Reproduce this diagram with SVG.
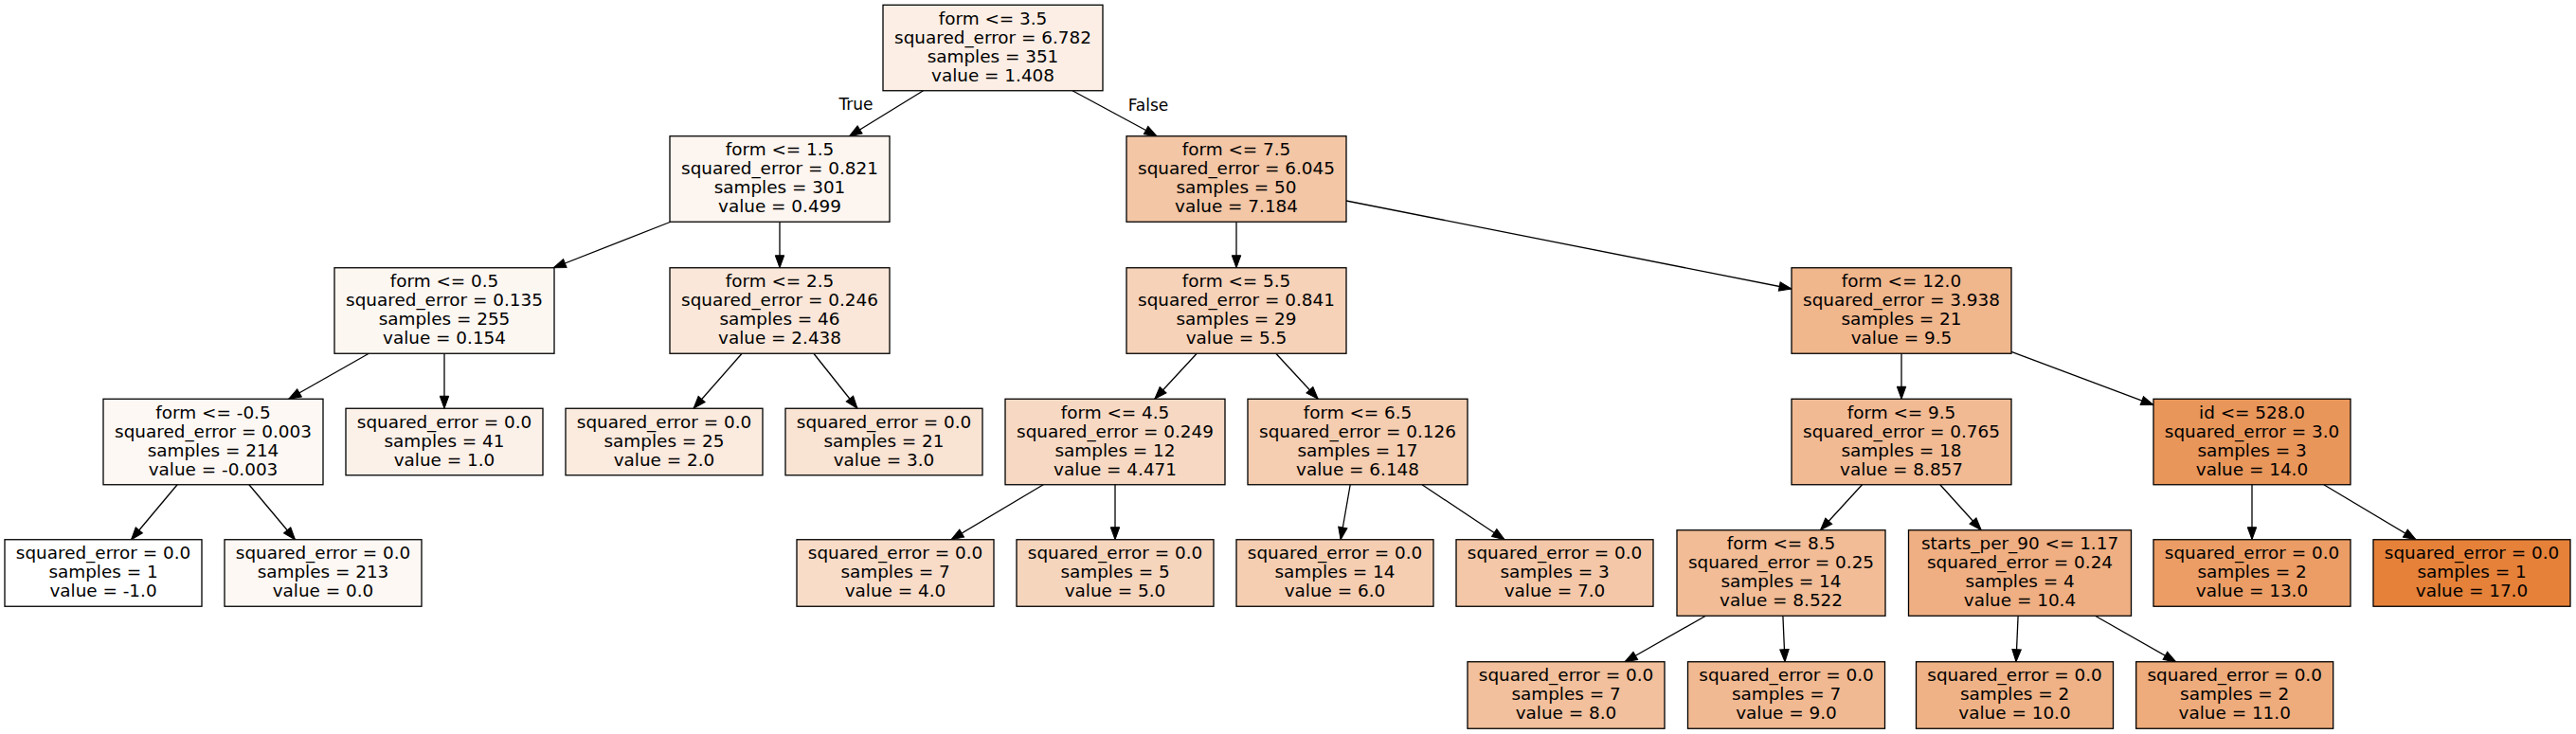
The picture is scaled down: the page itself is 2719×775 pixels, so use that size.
<svg xmlns="http://www.w3.org/2000/svg" width="2719" height="775" viewBox="0 0 2719 775">
<style>
.n rect{stroke:#000;stroke-width:1.3}
.n text{font-family:"DejaVu Sans",sans-serif;font-size:18.4px;text-anchor:middle;fill:#000}
.e line{stroke:#000;stroke-width:1.3;marker-end:url(#ah)}
.lbl{font-family:"DejaVu Sans",sans-serif;font-size:17px;text-anchor:middle;fill:#000}
</style>
<defs>
<marker id="ah" markerUnits="userSpaceOnUse" markerWidth="16" markerHeight="12" refX="13" refY="5" orient="auto" overflow="visible">
<path d="M0,0.3 L13,5 L0,9.7 z" fill="#000" stroke="#000" stroke-width="1"/>
</marker>
</defs>
<rect width="2719" height="775" fill="#fff"/>
<g id="edges" class="e">
<line x1="974.5" y1="95.75" x2="896.5" y2="143.75"/>
<line x1="1132" y1="95.75" x2="1221" y2="143.75"/>
<line x1="707.8" y1="234.25" x2="584.2" y2="282.75"/>
<line x1="823" y1="234.25" x2="823" y2="282.75"/>
<line x1="389.3" y1="373.25" x2="304.7" y2="421.25"/>
<line x1="469" y1="373.25" x2="469" y2="431.25"/>
<line x1="187.1" y1="511.75" x2="138.5" y2="569.75"/>
<line x1="262.9" y1="511.75" x2="311.5" y2="569.75"/>
<line x1="783.1" y1="373.25" x2="732.1" y2="431.25"/>
<line x1="858.9" y1="373.25" x2="905" y2="431.25"/>
<line x1="1305" y1="234.25" x2="1305" y2="282.75"/>
<line x1="1421" y1="212" x2="1891" y2="305"/>
<line x1="1263.2" y1="373.25" x2="1218.8" y2="421.25"/>
<line x1="1346.8" y1="373.25" x2="1391.2" y2="421.25"/>
<line x1="1101.2" y1="511.75" x2="1004" y2="569.75"/>
<line x1="1177" y1="511.75" x2="1177" y2="569.75"/>
<line x1="1425.2" y1="511.75" x2="1415.1" y2="569.75"/>
<line x1="1501" y1="511.75" x2="1588" y2="569.75"/>
<line x1="2007" y1="373.25" x2="2007" y2="421.25"/>
<line x1="2123" y1="371.4" x2="2273" y2="427.6"/>
<line x1="1965.5" y1="511.75" x2="1921.5" y2="559.75"/>
<line x1="2047.8" y1="511.75" x2="2091.2" y2="559.75"/>
<line x1="1800.4" y1="650.25" x2="1715" y2="698.75"/>
<line x1="1881.9" y1="650.25" x2="1884" y2="698.75"/>
<line x1="2130.1" y1="650.25" x2="2128" y2="698.75"/>
<line x1="2211.5" y1="650.25" x2="2296.7" y2="698.75"/>
<line x1="2377" y1="511.75" x2="2377" y2="569.75"/>
<line x1="2452.8" y1="511.75" x2="2550" y2="569.75"/>
<text class="lbl" x="903.5" y="115.7">True</text>
<text class="lbl" x="1212" y="116.7">False</text>
</g>
<g id="node0" class="n"><rect x="932" y="5.25" width="232" height="90.5" fill="#fceee5"/><text x="1048" y="25.5">form &lt;= 3.5</text><text x="1048" y="45.5">squared_error = 6.782</text><text x="1048" y="65.5">samples = 351</text><text x="1048" y="85.5">value = 1.408</text></g>
<g id="node1" class="n"><rect x="707" y="143.75" width="232" height="90.5" fill="#fdf5ef"/><text x="823" y="164">form &lt;= 1.5</text><text x="823" y="184">squared_error = 0.821</text><text x="823" y="204">samples = 301</text><text x="823" y="224">value = 0.499</text></g>
<g id="node2" class="n"><rect x="353" y="282.75" width="232" height="90.5" fill="#fdf7f2"/><text x="469" y="303">form &lt;= 0.5</text><text x="469" y="323">squared_error = 0.135</text><text x="469" y="343">samples = 255</text><text x="469" y="363">value = 0.154</text></g>
<g id="node3" class="n"><rect x="109" y="421.25" width="232" height="90.5" fill="#fef8f4"/><text x="225" y="441.5">form &lt;= -0.5</text><text x="225" y="461.5">squared_error = 0.003</text><text x="225" y="481.5">samples = 214</text><text x="225" y="501.5">value = -0.003</text></g>
<g id="node4" class="n"><rect x="5" y="569.75" width="208" height="70.5" fill="#ffffff"/><text x="109" y="590">squared_error = 0.0</text><text x="109" y="610">samples = 1</text><text x="109" y="630">value = -1.0</text></g>
<g id="node5" class="n"><rect x="237" y="569.75" width="208" height="70.5" fill="#fef8f4"/><text x="341" y="590">squared_error = 0.0</text><text x="341" y="610">samples = 213</text><text x="341" y="630">value = 0.0</text></g>
<g id="node6" class="n"><rect x="365" y="431.25" width="208" height="70.5" fill="#fcf1e9"/><text x="469" y="451.5">squared_error = 0.0</text><text x="469" y="471.5">samples = 41</text><text x="469" y="491.5">value = 1.0</text></g>
<g id="node7" class="n"><rect x="707" y="282.75" width="232" height="90.5" fill="#fae7d9"/><text x="823" y="303">form &lt;= 2.5</text><text x="823" y="323">squared_error = 0.246</text><text x="823" y="343">samples = 46</text><text x="823" y="363">value = 2.438</text></g>
<g id="node8" class="n"><rect x="597" y="431.25" width="208" height="70.5" fill="#fbeade"/><text x="701" y="451.5">squared_error = 0.0</text><text x="701" y="471.5">samples = 25</text><text x="701" y="491.5">value = 2.0</text></g>
<g id="node9" class="n"><rect x="829" y="431.25" width="208" height="70.5" fill="#f9e3d3"/><text x="933" y="451.5">squared_error = 0.0</text><text x="933" y="471.5">samples = 21</text><text x="933" y="491.5">value = 3.0</text></g>
<g id="node10" class="n"><rect x="1189" y="143.75" width="232" height="90.5" fill="#f3c6a5"/><text x="1305" y="164">form &lt;= 7.5</text><text x="1305" y="184">squared_error = 6.045</text><text x="1305" y="204">samples = 50</text><text x="1305" y="224">value = 7.184</text></g>
<g id="node11" class="n"><rect x="1189" y="282.75" width="232" height="90.5" fill="#f6d2b8"/><text x="1305" y="303">form &lt;= 5.5</text><text x="1305" y="323">squared_error = 0.841</text><text x="1305" y="343">samples = 29</text><text x="1305" y="363">value = 5.5</text></g>
<g id="node12" class="n"><rect x="1061" y="421.25" width="232" height="90.5" fill="#f7d9c3"/><text x="1177" y="441.5">form &lt;= 4.5</text><text x="1177" y="461.5">squared_error = 0.249</text><text x="1177" y="481.5">samples = 12</text><text x="1177" y="501.5">value = 4.471</text></g>
<g id="node13" class="n"><rect x="841" y="569.75" width="208" height="70.5" fill="#f8dcc8"/><text x="945" y="590">squared_error = 0.0</text><text x="945" y="610">samples = 7</text><text x="945" y="630">value = 4.0</text></g>
<g id="node14" class="n"><rect x="1073" y="569.75" width="208" height="70.5" fill="#f6d5bd"/><text x="1177" y="590">squared_error = 0.0</text><text x="1177" y="610">samples = 5</text><text x="1177" y="630">value = 5.0</text></g>
<g id="node15" class="n"><rect x="1317" y="421.25" width="232" height="90.5" fill="#f5cdb0"/><text x="1433" y="441.5">form &lt;= 6.5</text><text x="1433" y="461.5">squared_error = 0.126</text><text x="1433" y="481.5">samples = 17</text><text x="1433" y="501.5">value = 6.148</text></g>
<g id="node16" class="n"><rect x="1305" y="569.75" width="208" height="70.5" fill="#f5ceb2"/><text x="1409" y="590">squared_error = 0.0</text><text x="1409" y="610">samples = 14</text><text x="1409" y="630">value = 6.0</text></g>
<g id="node17" class="n"><rect x="1537" y="569.75" width="208" height="70.5" fill="#f3c7a7"/><text x="1641" y="590">squared_error = 0.0</text><text x="1641" y="610">samples = 3</text><text x="1641" y="630">value = 7.0</text></g>
<g id="node18" class="n"><rect x="1891" y="282.75" width="232" height="90.5" fill="#f0b68c"/><text x="2007" y="303">form &lt;= 12.0</text><text x="2007" y="323">squared_error = 3.938</text><text x="2007" y="343">samples = 21</text><text x="2007" y="363">value = 9.5</text></g>
<g id="node19" class="n"><rect x="1891" y="421.25" width="232" height="90.5" fill="#f1ba93"/><text x="2007" y="441.5">form &lt;= 9.5</text><text x="2007" y="461.5">squared_error = 0.765</text><text x="2007" y="481.5">samples = 18</text><text x="2007" y="501.5">value = 8.857</text></g>
<g id="node20" class="n"><rect x="1770" y="559.75" width="220" height="90.5" fill="#f1bc96"/><text x="1880" y="580">form &lt;= 8.5</text><text x="1880" y="600">squared_error = 0.25</text><text x="1880" y="620">samples = 14</text><text x="1880" y="640">value = 8.522</text></g>
<g id="node21" class="n"><rect x="1549" y="698.75" width="208" height="70.5" fill="#f2c09c"/><text x="1653" y="719">squared_error = 0.0</text><text x="1653" y="739">samples = 7</text><text x="1653" y="759">value = 8.0</text></g>
<g id="node22" class="n"><rect x="1781.5" y="698.75" width="208" height="70.5" fill="#f1b991"/><text x="1885.5" y="719">squared_error = 0.0</text><text x="1885.5" y="739">samples = 7</text><text x="1885.5" y="759">value = 9.0</text></g>
<g id="node23" class="n"><rect x="2014.5" y="559.75" width="235" height="90.5" fill="#efaf82"/><text x="2132" y="580">starts_per_90 &lt;= 1.17</text><text x="2132" y="600">squared_error = 0.24</text><text x="2132" y="620">samples = 4</text><text x="2132" y="640">value = 10.4</text></g>
<g id="node24" class="n"><rect x="2022.5" y="698.75" width="208" height="70.5" fill="#efb286"/><text x="2126.5" y="719">squared_error = 0.0</text><text x="2126.5" y="739">samples = 2</text><text x="2126.5" y="759">value = 10.0</text></g>
<g id="node25" class="n"><rect x="2254.7" y="698.75" width="208" height="70.5" fill="#eeab7b"/><text x="2358.7" y="719">squared_error = 0.0</text><text x="2358.7" y="739">samples = 2</text><text x="2358.7" y="759">value = 11.0</text></g>
<g id="node26" class="n"><rect x="2273" y="421.25" width="208" height="90.5" fill="#e9965a"/><text x="2377" y="441.5">id &lt;= 528.0</text><text x="2377" y="461.5">squared_error = 3.0</text><text x="2377" y="481.5">samples = 3</text><text x="2377" y="501.5">value = 14.0</text></g>
<g id="node27" class="n"><rect x="2273" y="569.75" width="208" height="70.5" fill="#eb9d65"/><text x="2377" y="590">squared_error = 0.0</text><text x="2377" y="610">samples = 2</text><text x="2377" y="630">value = 13.0</text></g>
<g id="node28" class="n"><rect x="2505" y="569.75" width="208" height="70.5" fill="#e58139"/><text x="2609" y="590">squared_error = 0.0</text><text x="2609" y="610">samples = 1</text><text x="2609" y="630">value = 17.0</text></g>
</svg>
